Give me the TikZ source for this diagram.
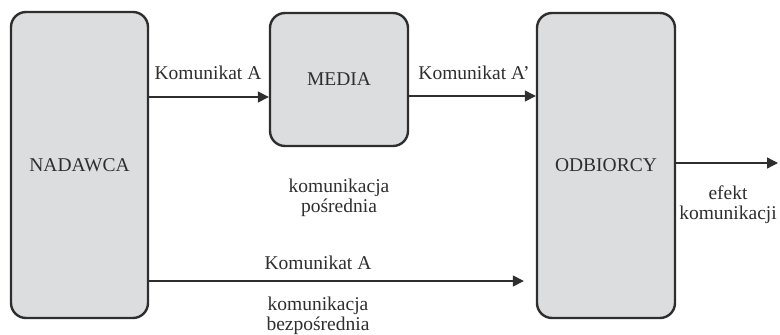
\documentclass[tikz,border=0pt]{standalone}
\usepackage{fontspec}
\setmainfont{Liberation Serif}
\usepackage{xcolor}
\usetikzlibrary{arrows.meta}
\definecolor{boxgray}{HTML}{DCDDDF}
\definecolor{ink}{HTML}{2E2E2E}

\begin{document}
\begin{tikzpicture}[x=1pt, y=-1pt,
        every node/.style={text=ink, font=\fontsize{19.5}{20}\selectfont},
        stage/.style={draw=ink, fill=boxgray, line width=2.4pt, rounded corners=15pt, inner sep=0pt},
        flow/.style={draw=ink, line width=1.4pt, -{Triangle[length=11pt, width=11pt]}},
        note/.style={align=center, inner sep=0pt}]
        \useasboundingbox (0,0) rectangle (780,335);

        \node[stage, minimum width=137pt, minimum height=306pt] (nad) at (79.5,165) {NADAWCA};
        \node[stage, minimum width=138pt, minimum height=133pt] (med) at (339,79.5) {MEDIA};
        \node[stage, minimum width=138pt, minimum height=305pt] (odb) at (606,165.5) {ODBIORCY};
        \coordinate (end) at (778,163);

        \node[note] (lab1) at (208,73) {Komunikat A};
        \node[note] (lab2) at (474,73) {Komunikat A'};
        \node[note] (posr) at (339,198) {komunikacja\\pośrednia};
        \node[note] (efekt) at (728,205) {efekt\\komunikacji};
        \node[note] (lab3) at (318,263) {Komunikat A};
        \node[note] (bezp) at (318,316) {komunikacja\\bezpośrednia};

        \draw[flow] (nad.east |- 0,97) -- (med.west |- 0,97);
        \draw[flow] (med.east |- 0,96) -- (odb.west |- 0,96);
        \draw[flow] (odb.east |- end) -- (end);
        \draw[flow, shorten >=12pt] (nad.east |- 0,281) -- (odb.west |- 0,281);
    \end{tikzpicture}
\end{document}
